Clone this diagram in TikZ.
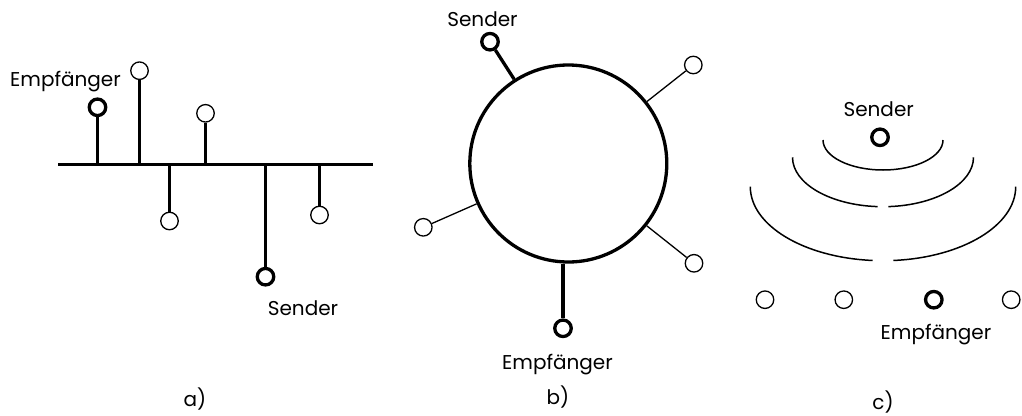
\documentclass[tikz,border=0pt]{standalone}
\usepackage{fontspec}
\setmainfont{Poppins}

\begin{document}
\begin{tikzpicture}[x=1pt, y=-1pt,
    stn/.style = {draw, circle, line width=1.3pt, minimum size=17.5pt, inner sep=0pt},
    key/.style = {draw, circle, line width=3.3pt, minimum size=16.5pt, inner sep=0pt},
    wire/.style = {line width=1.3pt},
    cable/.style = {line width=3.3pt},
    wave/.style = {line width=1.5pt},
    lbl/.style = {font=\fontsize{20}{24}\selectfont, inner sep=0pt, anchor=base}]
    \useasboundingbox (0,0) rectangle (1022,415);

    % a) bus
    \coordinate (busl) at (58,164.3);
    \coordinate (busr) at (373,164.3);
    \draw[line width=3.5pt] (busl) -- (busr);
    \node[key] (a1) at (97.5,107.3) {};
    \node[stn] (a2) at (139.5,70.7) {};
    \node[stn] (a3) at (169.5,221) {};
    \node[stn] (a4) at (205.5,113.3) {};
    \node[key] (a5) at (265.5,276.7) {};
    \node[stn] (a6) at (319.5,215) {};
    \foreach \n in {a1,a2,a4} \draw[cable] (\n.south) -- (\n |- busl);
    \foreach \n in {a3,a5,a6} \draw[cable] (\n.north) -- (\n |- busl);
    \node[lbl] (a1l) at (65.5,86.7) {Empfänger};
    \node[lbl] (a5l) at (303,315.7) {Sender};
    \node[lbl] (acap) at (195,406) {a)};

    % b) ring
    \node[draw, circle, line width=3.3pt, minimum size=197pt] (ring) at (568.3,163.5) {};
    \node[key] (b1) at (490,41.7) {};
    \node[stn] (b2) at (693.3,65) {};
    \node[stn] (b3) at (423.3,227.3) {};
    \node[stn] (b4) at (694,263.3) {};
    \node[key] (b5) at (563,328.3) {};
    \draw[cable] (b1) -- (ring);
    \draw[wire] (b2) -- (ring);
    \draw[wire] (b3) -- (ring);
    \draw[wire] (b4) -- (ring);
    \draw[cable] (b5.north) -- (b5.north |- ring.south);
    \node[lbl] (b1l) at (482.5,26.7) {Sender};
    \node[lbl] (b5l) at (557.5,369.3) {Empfänger};
    \node[lbl] (bcap) at (558,404) {b)};

    % c) radio
    \node[key] (cs) at (880,137.3) {};
    \foreach \cy/\rx/\ry/\gap in {140/60/30/0, 157.3/90.5/49.4/3.4, 186.7/132.7/74/4.5} {
        \draw[wave] (883-\rx,\cy) arc[start angle=180, end angle=90+\gap, x radius=\rx, y radius=\ry];
        \draw[wave] (883+\rx,\cy) arc[start angle=0, end angle=90-\gap, x radius=\rx, y radius=\ry];
    }
    \node[stn] (c1) at (765,299.7) {};
    \node[stn] (c2) at (843.8,299.7) {};
    \node[key] (c3) at (933.8,299.7) {};
    \node[stn] (c4) at (1011.2,299.7) {};
    \node[lbl] (csl) at (878.7,116) {Sender};
    \node[lbl] (c3l) at (936,339.3) {Empfänger};
    \node[lbl] (ccap) at (883,409) {c)};
\end{tikzpicture}
\end{document}
